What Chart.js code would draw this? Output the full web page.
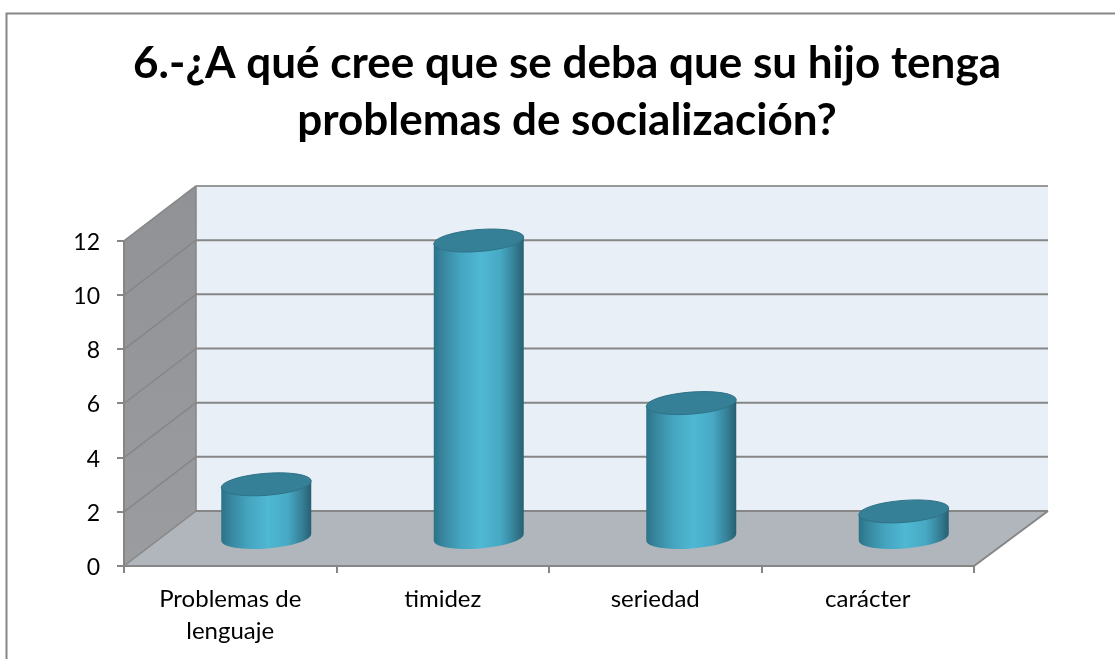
<!DOCTYPE html>
<html><head><meta charset="utf-8">
<style>html,body{margin:0;padding:0;background:#fff;overflow:hidden}#w{width:1115px;height:659px;position:relative}</style>
<script src="https://cdn.jsdelivr.net/npm/chart.js@4"></script>
</head><body><div id="w"><canvas id="c" width="1115" height="659"></canvas></div>
<script>
const categories = [['Problemas de','lenguaje'],'timidez','seriedad','carácter'];
const seriesName = ['Serie 1'];
const seriesValues = [2, 11, 5, 1];
const yTicks = [0, 2, 4, 6, 8, 10, 12];
const titleLines = ['6.-¿A qué cree que se deba que su hijo tenga','problemas de socialización?'];

const DX = 72, DY = 55;
const FONT = 'Lato, Carlito, sans-serif';
const GRID = '#868686';

function poly(ctx, pts, fill){
  ctx.beginPath();
  pts.forEach((p,i)=> i?ctx.lineTo(p[0],p[1]):ctx.moveTo(p[0],p[1]));
  ctx.closePath();
  if(fill){ctx.fillStyle=fill;ctx.fill();}
}
function line(ctx,a,b,c,w){
  ctx.beginPath();ctx.moveTo(a[0],a[1]);ctx.lineTo(b[0],b[1]);
  ctx.strokeStyle=c;ctx.lineWidth=w;ctx.stroke();
}
const scene = {
  id:'scene',
  afterLayout(chart){ chart.titleBlock.left = 19; chart.titleBlock.right = chart.width; },
  beforeDraw(chart){
    const ctx=chart.ctx;
    ctx.save();
    ctx.fillStyle='#fff';ctx.fillRect(0,0,chart.width,chart.height);
    ctx.strokeStyle=GRID;ctx.lineWidth=2;
    ctx.beginPath();ctx.moveTo(6.5,chart.height);ctx.lineTo(6.5,13.5);ctx.lineTo(chart.width,13.5);ctx.stroke();
    ctx.restore();
  },
  beforeDatasetsDraw(chart){
    const ctx=chart.ctx, a=chart.chartArea, y=chart.scales.y;
    const L=a.left,R=a.right,T=a.top,B=a.bottom,E=R+DX+2;
    ctx.save();
    poly(ctx,[[L+DX,T-DY],[E,T-DY],[E,B-DY],[L+DX,B-DY]],'#e8eff6');
    const g=ctx.createLinearGradient(0,T-DY,0,B);
    g.addColorStop(0,'#909296');g.addColorStop(1,'#9a9ca0');
    poly(ctx,[[L,T],[L+DX,T-DY],[L+DX,B-DY],[L,B]],g);
    poly(ctx,[[L,B],[L+DX,B-DY],[E,B-DY],[R,B]],'#b0b6bb');
    yTicks.forEach(v=>{
      const py=y.getPixelForValue(v);
      if(v>0) line(ctx,[L+DX,py-DY],[E,py-DY],GRID,2);
      line(ctx,[L,py],[L+DX,py-DY],GRID,1.5);
    });
    line(ctx,[L+DX,T-DY],[E,T-DY],'#9a9a9a',2);
    line(ctx,[L+DX,T-DY],[L+DX,B-DY],GRID,1.5);
    line(ctx,[L+DX,B-DY],[E,B-DY],GRID,2);
    line(ctx,[R,B],[E,B-DY],GRID,2);
    line(ctx,[L,T],[L,B],GRID,2);
    line(ctx,[L,B],[R,B],GRID,2);
    ctx.restore();
  },
  beforeDatasetDraw(chart,args){
    const ctx=chart.ctx;
    args.meta.data.forEach(bar=>{
      const r=bar.width/2, cx=bar.x+DX/2, ty=bar.y-DY/2, by=bar.base-DY/2;
      const tilt=3.5, ry=11, rot=Math.atan2(-tilt*2,r*2);
      const rx=r/Math.cos(rot);
      ctx.save();
      const g=ctx.createLinearGradient(cx-r,0,cx+r,0);
      g.addColorStop(0,'#2b7288');g.addColorStop(.1,'#37869e');g.addColorStop(.3,'#45a5c0');
      g.addColorStop(.52,'#4fb8d3');g.addColorStop(.74,'#47a9c4');g.addColorStop(.9,'#357f96');g.addColorStop(1,'#275f72');
      ctx.beginPath();
      ctx.moveTo(cx-r,ty+tilt);
      ctx.lineTo(cx-r,by+tilt);
      ctx.ellipse(cx,by,rx,ry,rot,Math.PI,0,true);
      ctx.lineTo(cx+r,ty-tilt);
      ctx.closePath();
      ctx.fillStyle=g;ctx.fill();
      ctx.beginPath();
      ctx.ellipse(cx,ty,rx,ry,rot,0,Math.PI*2);
      ctx.fillStyle='#358096';ctx.fill();
      ctx.strokeStyle='#2f7288';ctx.lineWidth=1;ctx.stroke();
      ctx.restore();
    });
    return false;
  }
};
new Chart(document.getElementById('c'),{
  type:'bar',
  data:{labels:categories,datasets:[{label:seriesName[0],data:seriesValues,backgroundColor:'#4bb5d0',barPercentage:0.4235,categoryPercentage:1}]},
  plugins:[scene],
  options:{
    responsive:false,animation:false,
    layout:{padding:{left:0,right:141,top:0,bottom:0}},
    plugins:{
      legend:{display:false},tooltip:{enabled:false},
      title:{display:true,text:titleLines,color:'#000',
        font:{family:FONT,size:44,weight:'bold',lineHeight:1.295},
        padding:{top:35,bottom:92}}
    },
    scales:{
      x:{
        afterFit(s){s.height=93;},
        grid:{drawOnChartArea:false,drawTicks:true,tickLength:7,color:GRID,lineWidth:2,offset:true},
        border:{display:false},
        ticks:{color:'#000',font:{family:FONT,size:24,lineHeight:1.333},padding:10,maxRotation:0,autoSkip:false}
      },
      y:{
        min:0,max:12,
        afterFit(s){s.width=124;},
        grid:{drawOnChartArea:false,tickLength:7,color:GRID,lineWidth:2},
        border:{display:false},
        ticks:{stepSize:2,color:'#000',font:{family:FONT,size:23},padding:17,labelOffset:1.5}
      }
    }
  }
});
</script></body></html>
